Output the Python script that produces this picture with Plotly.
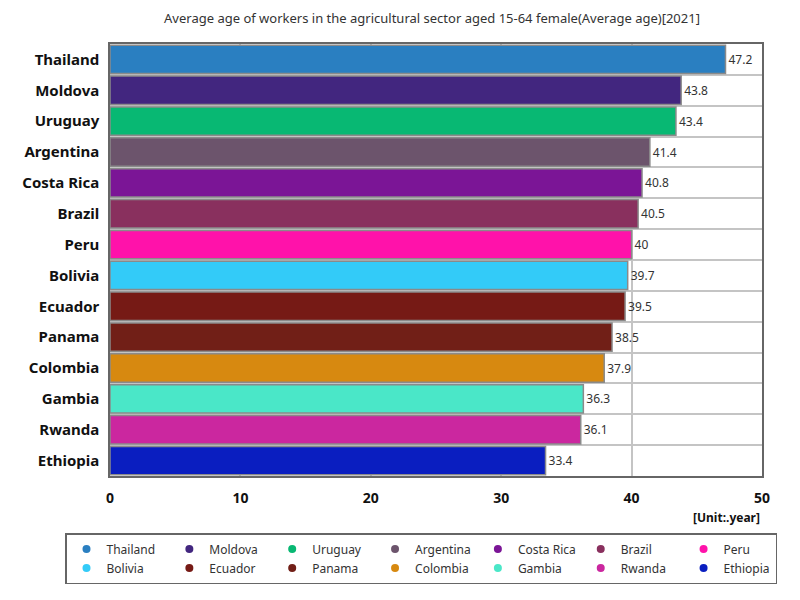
import plotly.graph_objects as go

# data
countries = ["Thailand", "Moldova", "Uruguay", "Argentina", "Costa Rica",
             "Brazil", "Peru", "Bolivia", "Ecuador", "Panama",
             "Colombia", "Gambia", "Rwanda", "Ethiopia"]
ages = [47.2, 43.8, 43.4, 41.4, 40.8, 40.5, 40, 39.7, 39.5, 38.5,
        37.9, 36.3, 36.1, 33.4]
colors = ["#2a7fc1", "#42267f", "#08b873", "#6c546c", "#7b1596",
          "#89305e", "#ff12aa", "#33cbf8", "#761a15", "#711f17",
          "#d78910", "#4ae7c8", "#cb279f", "#0a1ec0"]

fig = go.Figure()

# one bar trace per country
for name, val, col in zip(countries, ages, colors):
    fig.add_trace(
        go.Bar(
            x=[val],
            y=[name],
            orientation="h",
            name=name,
            showlegend=False,
            marker=dict(color=col, line=dict(color="#8a8a8a", width=1.5)),
            text=[f"{val:g}"],
            textposition="outside",
            textfont=dict(size=12, color="#333333"),
            cliponaxis=False,
        )
    )

# legend entries with round markers, like the original
for name, col in zip(countries, colors):
    fig.add_trace(
        go.Scatter(
            x=[None], y=[None],
            mode="markers",
            name=name,
            marker=dict(color=col, size=8, symbol="circle"),
            showlegend=True,
        )
    )

# the page body adds an 8px offset, margins are set with that in mind
fig.update_layout(
    width=800,
    height=600,
    paper_bgcolor="white",
    plot_bgcolor="white",
    font=dict(family="Noto Sans", color="#222222"),
    margin=dict(l=102, r=46, t=36, b=132, autoexpand=False),
    barmode="overlay",
    bargap=0.08,
    title=dict(
        text="Average age of workers in the agricultural sector aged 15-64 female(Average age)[2021]",
        x=0.53, xanchor="center", y=0.983, yanchor="middle",
        font=dict(size=13, color="#333333"),
    ),
    legend=dict(
        orientation="h",
        x=-0.069, xanchor="left",
        y=-0.132, yanchor="top",
        bordercolor="#666666", borderwidth=1.5,
        font=dict(size=12, color="#333333"),
        itemwidth=30,
        tracegroupgap=0,
    ),
    showlegend=True,
)

fig.update_xaxes(
    range=[0, 50],
    dtick=10,
    automargin=False,
    showgrid=True,
    gridcolor="#c4c4c4",
    gridwidth=1.5,
    zeroline=False,
    showline=True,
    linecolor="#666666",
    linewidth=1.5,
    mirror=True,
    ticks="",
    tickfont=dict(size=14, color="#111111", family="Noto Sans", weight="bold"),
    ticklabelstandoff=8,
)

fig.update_yaxes(
    categoryorder="array",
    categoryarray=countries[::-1],
    automargin=False,
    tickson="boundaries",
    showgrid=True,
    gridcolor="#c4c4c4",
    gridwidth=2,
    showline=True,
    linecolor="#666666",
    linewidth=1.5,
    mirror=True,
    ticks="",
    tickfont=dict(size=15, color="#111111", family="Noto Sans", weight="bold"),
    ticklabelstandoff=6,
)

fig.add_annotation(
    text="[Unit:.year]",
    xref="paper", yref="paper",
    x=1.0, y=-0.071,
    xanchor="right", yanchor="top",
    showarrow=False,
    font=dict(size=12, color="#111111", weight="bold"),
)

fig.write_html("out.html")
